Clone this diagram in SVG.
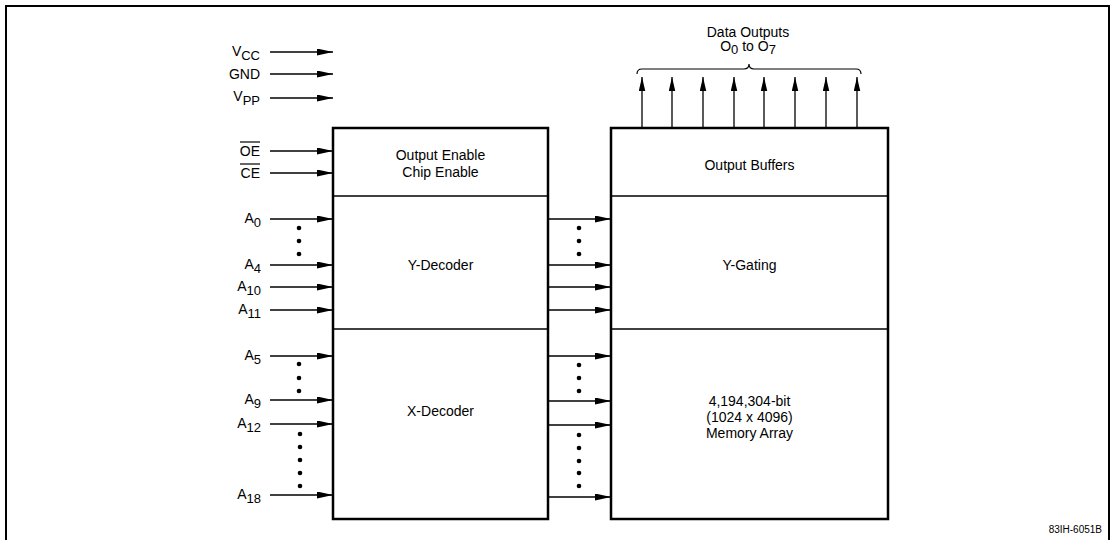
<svg xmlns="http://www.w3.org/2000/svg" width="1115" height="540" viewBox="0 0 1115 540">
<style>
.t{font-family:"Liberation Sans",Arial,sans-serif;font-size:14px;fill:#000}
.lbl{text-anchor:end}
.c{text-anchor:middle}
.sub{font-size:13px}
.blk{fill:#fff;stroke:#000;stroke-width:2.5}
.div{stroke:#000;stroke-width:1.5}
.ar{stroke:#000;stroke-width:1.3;fill:none;marker-end:url(#ah)}
.dot{fill:#000}
.ol{stroke:#000;stroke-width:1.2}
</style>
<defs>
<marker id="ah" markerUnits="userSpaceOnUse" markerWidth="16" markerHeight="8" refX="16" refY="3.5" orient="auto">
<path d="M0,0 L16,3.5 L0,7 Z" fill="#000"/>
</marker>
<marker id="ahv" markerUnits="userSpaceOnUse" markerWidth="14" markerHeight="8" refX="14" refY="3.25" orient="auto">
<path d="M0,0 L14,3.25 L0,6.5 Z" fill="#000"/>
</marker>
</defs>
<rect width="1115" height="540" fill="#fff"/>
<path d="M6,540 V6 H1109 V540" fill="none" stroke="#000" stroke-width="2"/>

<g id="left-block">
<rect class="blk" x="333" y="128" width="215" height="391"/>
<line class="div" x1="333" y1="196" x2="548" y2="196"/>
<line class="div" x1="333" y1="329" x2="548" y2="329"/>
</g>
<g id="output-enable">
<text class="t c" x="440.5" y="160">Output Enable</text>
<text class="t c" x="440.5" y="177">Chip Enable</text>
</g>
<g id="y-decoder"><text class="t c" x="440.5" y="270">Y-Decoder</text></g>
<g id="x-decoder"><text class="t c" x="440.5" y="416">X-Decoder</text></g>

<g id="right-block">
<rect class="blk" x="611" y="128" width="277" height="391"/>
<line class="div" x1="611" y1="196" x2="888" y2="196"/>
<line class="div" x1="611" y1="329" x2="888" y2="329"/>
</g>
<g id="output-buffers"><text class="t c" x="749.5" y="170">Output Buffers</text></g>
<g id="y-gating"><text class="t c" x="749.5" y="270">Y-Gating</text></g>
<g id="memory-array">
<text class="t c" x="749.5" y="406">4,194,304-bit</text>
<text class="t c" x="749.5" y="422">(1024 x 4096)</text>
<text class="t c" x="749.5" y="438">Memory Array</text>
</g>

<g id="labels">
<text class="t lbl" x="260" y="56">V<tspan class="sub" dy="4">CC</tspan></text>
<text class="t lbl" x="260" y="79">GND</text>
<text class="t lbl" x="260" y="101">V<tspan class="sub" dy="4">PP</tspan></text>
<text class="t lbl" x="260" y="156">OE</text>
<line class="ol" x1="240" y1="142" x2="260" y2="142"/>
<text class="t lbl" x="260" y="178">CE</text>
<line class="ol" x1="240" y1="164" x2="260" y2="164"/>
<text class="t lbl" x="261" y="223">A<tspan class="sub" dy="4">0</tspan></text>
<text class="t lbl" x="261" y="269">A<tspan class="sub" dy="4">4</tspan></text>
<text class="t lbl" x="261" y="291">A<tspan class="sub" dy="4">10</tspan></text>
<text class="t lbl" x="261" y="314">A<tspan class="sub" dy="4">11</tspan></text>
<text class="t lbl" x="261" y="360">A<tspan class="sub" dy="4">5</tspan></text>
<text class="t lbl" x="261" y="404">A<tspan class="sub" dy="4">9</tspan></text>
<text class="t lbl" x="261" y="428">A<tspan class="sub" dy="4">12</tspan></text>
<text class="t lbl" x="261" y="499">A<tspan class="sub" dy="4">18</tspan></text>
</g>

<g id="data-outputs">
<text class="t c" x="748" y="37">Data Outputs</text>
<text class="t c" x="748" y="51">O<tspan class="sub" dy="3">0</tspan><tspan dy="-3"> to O</tspan><tspan class="sub" dy="3">7</tspan></text>
<path d="M637,74 Q637,69 642,69 H744 Q749,69 749,64 Q749,69 754,69 H856 Q861,69 861,74" fill="none" stroke="#000" stroke-width="1.2"/>
</g>

<g id="connectors">
<line class="ar" x1="270" y1="52" x2="333" y2="52"/>
<line class="ar" x1="270" y1="74" x2="333" y2="74"/>
<line class="ar" x1="270" y1="98" x2="333" y2="98"/>
<line class="ar" x1="270" y1="151" x2="333" y2="151"/>
<line class="ar" x1="270" y1="173" x2="333" y2="173"/>
<line class="ar" x1="270" y1="219" x2="333" y2="219"/>
<line class="ar" x1="270" y1="265" x2="333" y2="265"/>
<line class="ar" x1="270" y1="287" x2="333" y2="287"/>
<line class="ar" x1="270" y1="310" x2="333" y2="310"/>
<line class="ar" x1="270" y1="356" x2="333" y2="356"/>
<line class="ar" x1="270" y1="400" x2="333" y2="400"/>
<line class="ar" x1="270" y1="424" x2="333" y2="424"/>
<line class="ar" x1="270" y1="495" x2="333" y2="495"/>

<line class="ar" x1="548" y1="219" x2="611" y2="219"/>
<line class="ar" x1="548" y1="265" x2="611" y2="265"/>
<line class="ar" x1="548" y1="287" x2="611" y2="287"/>
<line class="ar" x1="548" y1="310" x2="611" y2="310"/>
<line class="ar" x1="548" y1="356" x2="611" y2="356"/>
<line class="ar" x1="548" y1="401" x2="611" y2="401"/>
<line class="ar" x1="548" y1="425" x2="611" y2="425"/>
<line class="ar" x1="548" y1="497" x2="611" y2="497"/>

<g stroke="#000" stroke-width="1.3" marker-end="url(#ahv)">
<line x1="642" y1="128" x2="642" y2="77"/>
<line x1="672" y1="128" x2="672" y2="77"/>
<line x1="703" y1="128" x2="703" y2="77"/>
<line x1="734" y1="128" x2="734" y2="77"/>
<line x1="764" y1="128" x2="764" y2="77"/>
<line x1="795" y1="128" x2="795" y2="77"/>
<line x1="826" y1="128" x2="826" y2="77"/>
<line x1="857" y1="128" x2="857" y2="77"/>
</g>
</g>

<g id="dots">
<circle class="dot" cx="299" cy="228" r="2.3"/>
<circle class="dot" cx="299" cy="241" r="2.3"/>
<circle class="dot" cx="299" cy="254" r="2.3"/>
<circle class="dot" cx="299" cy="364" r="2.3"/>
<circle class="dot" cx="299" cy="378" r="2.3"/>
<circle class="dot" cx="299" cy="391" r="2.3"/>
<circle class="dot" cx="300" cy="434" r="2.3"/>
<circle class="dot" cx="300" cy="447" r="2.3"/>
<circle class="dot" cx="300" cy="460" r="2.3"/>
<circle class="dot" cx="300" cy="473" r="2.3"/>
<circle class="dot" cx="300" cy="486" r="2.3"/>
<circle class="dot" cx="579" cy="228" r="2.3"/>
<circle class="dot" cx="579" cy="241" r="2.3"/>
<circle class="dot" cx="579" cy="254" r="2.3"/>
<circle class="dot" cx="579" cy="365" r="2.3"/>
<circle class="dot" cx="579" cy="378" r="2.3"/>
<circle class="dot" cx="579" cy="391" r="2.3"/>
<circle class="dot" cx="579" cy="435" r="2.3"/>
<circle class="dot" cx="579" cy="448" r="2.3"/>
<circle class="dot" cx="579" cy="461" r="2.3"/>
<circle class="dot" cx="579" cy="473" r="2.3"/>
<circle class="dot" cx="579" cy="486" r="2.3"/>
</g>

<text class="t" x="1102" y="533" text-anchor="end" style="font-size:10px">83IH-6051B</text>
</svg>
